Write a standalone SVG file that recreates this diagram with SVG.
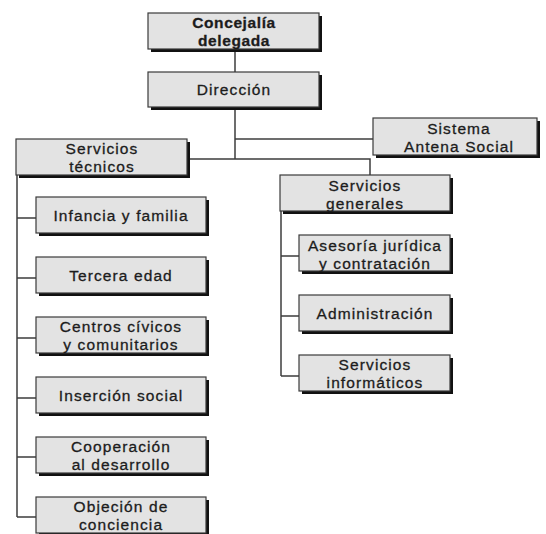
<svg xmlns="http://www.w3.org/2000/svg" width="546" height="534" viewBox="0 0 546 534">
<defs>
<style>
.sh{fill:#111}
.bx{fill:#e3e3e3;stroke:#3a3a3a;stroke-width:1.2}
.t{font-family:"Liberation Sans",Arial,sans-serif;font-size:15.5px;fill:#1c1c1c;text-anchor:middle;letter-spacing:1.1px;stroke:#1c1c1c;stroke-width:0.3}
.b{font-weight:bold;letter-spacing:0.6px}
.c{fill:none;stroke:#3c3c3c;stroke-width:1.5}
</style>
</defs>
<rect width="546" height="534" fill="#ffffff"/>
<g id="connectors">
<path class="c" d="M235 49V72"/>
<path class="c" d="M235 107V159"/>
<path class="c" d="M235 139H373"/>
<path class="c" d="M187 159H370V175"/>
<path class="c" d="M17 175V517"/>
<path class="c" d="M17 218H36M17 278H36M17 338H36M17 398H36M17 457H36M17 517H36"/>
<path class="c" d="M281 211V376"/>
<path class="c" d="M281 256H299M281 316H299M281 376H299"/>
</g>
<g id="n-concejalia">
<rect class="sh" x="151" y="16" width="171" height="36"/>
<rect class="bx" x="148" y="13" width="171" height="36"/>
<text class="t b" x="234" y="28">Concejalía</text>
<text class="t b" x="234" y="46">delegada</text>
</g>
<g id="n-direccion">
<rect class="sh" x="151" y="75" width="171" height="35"/>
<rect class="bx" x="148" y="72" width="171" height="35"/>
<text class="t" x="234" y="95">Dirección</text>
</g>
<g id="n-servicios-tecnicos">
<rect class="sh" x="19" y="142" width="171" height="36"/>
<rect class="bx" x="16" y="139" width="171" height="36"/>
<text class="t" x="102" y="154">Servicios</text>
<text class="t" x="102" y="172">técnicos</text>
</g>
<g id="n-sistema-antena">
<rect class="sh" x="376" y="121" width="164" height="37"/>
<rect class="bx" x="373" y="118" width="164" height="37"/>
<text class="t" x="459" y="134">Sistema</text>
<text class="t" x="459" y="152">Antena Social</text>
</g>
<g id="n-servicios-generales">
<rect class="sh" x="283" y="178" width="170" height="36"/>
<rect class="bx" x="280" y="175" width="170" height="36"/>
<text class="t" x="365" y="191">Servicios</text>
<text class="t" x="365" y="209">generales</text>
</g>
<g id="n-infancia">
<rect class="sh" x="39" y="200" width="170" height="36"/>
<rect class="bx" x="36" y="197" width="170" height="36"/>
<text class="t" x="121" y="221">Infancia y familia</text>
</g>
<g id="n-tercera">
<rect class="sh" x="39" y="260" width="170" height="36"/>
<rect class="bx" x="36" y="257" width="170" height="36"/>
<text class="t" x="121" y="281">Tercera edad</text>
</g>
<g id="n-centros">
<rect class="sh" x="39" y="320" width="170" height="36"/>
<rect class="bx" x="36" y="317" width="170" height="36"/>
<text class="t" x="121" y="332">Centros cívicos</text>
<text class="t" x="121" y="350">y comunitarios</text>
</g>
<g id="n-insercion">
<rect class="sh" x="39" y="380" width="170" height="36"/>
<rect class="bx" x="36" y="377" width="170" height="36"/>
<text class="t" x="121" y="401">Inserción social</text>
</g>
<g id="n-cooperacion">
<rect class="sh" x="39" y="440" width="170" height="36"/>
<rect class="bx" x="36" y="437" width="170" height="36"/>
<text class="t" x="121" y="452">Cooperación</text>
<text class="t" x="121" y="470">al desarrollo</text>
</g>
<g id="n-objecion">
<rect class="sh" x="39" y="500" width="170" height="36"/>
<rect class="bx" x="36" y="497" width="170" height="36"/>
<text class="t" x="121" y="512">Objeción de</text>
<text class="t" x="121" y="530">conciencia</text>
</g>
<g id="n-asesoria">
<rect class="sh" x="302" y="238" width="151" height="36"/>
<rect class="bx" x="299" y="235" width="151" height="36"/>
<text class="t" x="375" y="251">Asesoría jurídica</text>
<text class="t" x="375" y="269">y contratación</text>
</g>
<g id="n-administracion">
<rect class="sh" x="302" y="298" width="151" height="36"/>
<rect class="bx" x="299" y="295" width="151" height="36"/>
<text class="t" x="375" y="319">Administración</text>
</g>
<g id="n-informaticos">
<rect class="sh" x="302" y="358" width="151" height="36"/>
<rect class="bx" x="299" y="355" width="151" height="36"/>
<text class="t" x="375" y="370">Servicios</text>
<text class="t" x="375" y="388">informáticos</text>
</g>
</svg>
